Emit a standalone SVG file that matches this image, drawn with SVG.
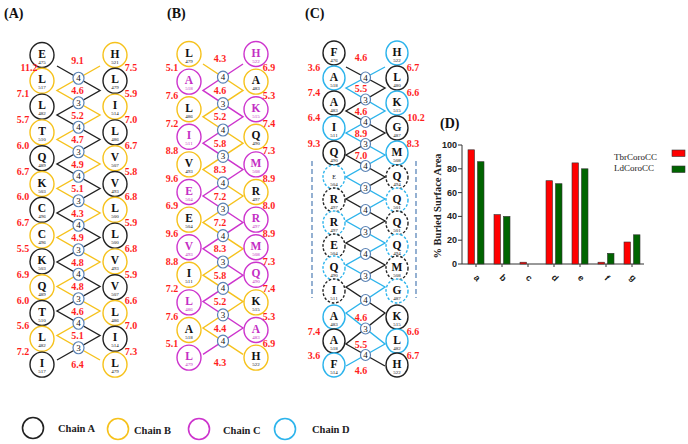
<svg xmlns="http://www.w3.org/2000/svg" width="688" height="444" viewBox="0 0 688 444">
<style>
.n ellipse{fill:#fff;stroke-width:1.4}
.nk ellipse{stroke:#222}
.ny ellipse{stroke:#F6C21C}
.nm ellipse{stroke:#CD34CD}
.nc ellipse{stroke:#2DB4EC}
.dd ellipse{stroke-dasharray:2.6 1.8}
.n text{font-family:"Liberation Serif",serif;text-anchor:middle;fill:#111}
.n .r{font-size:11.5px;font-weight:bold}
.n .u{font-size:5px}
.nm text{fill:#C42EC4}
.x ellipse{fill:#fff;stroke:#5A82B4;stroke-width:1.2}
.x text{font-family:"Liberation Serif",serif;font-size:9px;text-anchor:middle;fill:#111}
.v{font-family:"Liberation Serif",serif;font-weight:bold;font-size:10px;fill:#FF1E1E;text-anchor:middle}
.ln{fill:none;stroke-width:1.4}
.lk{stroke:#222}.ly{stroke:#F6C21C}.lm{stroke:#CD34CD}.lc{stroke:#2DB4EC}
.t{font-family:"Liberation Serif",serif;font-weight:bold;font-size:14px;fill:#111}
.lg{font-family:"Liberation Serif",serif;font-weight:bold;font-size:10.5px;fill:#222}
.ax{stroke:#333;stroke-width:1;fill:none}
.tk{font-family:"Liberation Sans",Arial,sans-serif;font-weight:bold;font-size:9px;fill:#222}
.rb{fill:#FF0000;stroke:#333;stroke-width:0.6}
.gb{fill:#006400;stroke:#333;stroke-width:0.6}
</style>
<rect width="688" height="444" fill="#fff"/>

<g id="titles">
<text class="t" x="4" y="18">(A)</text>
<text class="t" x="167" y="18">(B)</text>
<text class="t" x="305" y="18">(C)</text>
<text class="t" x="440" y="128">(D)</text>
</g>

<g id="connectors">
<polyline class="ln lk" points="57,66 100,90.5 57,115 100,139.5 57,164 100,188.5 57,213 100,237.5 57,262 100,286.5 57,311 100,335.5 57,360"/>
<polyline class="ln ly" points="100,66 57,90.5 100,115 57,139.5 100,164 57,188.5 100,213 57,237.5 100,262 57,286.5 100,311 57,335.5 100,360"/>
<polyline class="ln ly" points="203,64 243,90.4 203,116.8 243,143.2 203,169.6 243,196 203,222.4 243,248.8 203,275.2 243,301.6 203,328 243,354.4"/>
<polyline class="ln lm" points="243,64 203,90.4 243,116.8 203,143.2 243,169.6 203,196 243,222.4 203,248.8 243,275.2 203,301.6 243,328 203,354.4"/>
<polyline class="ln lk" points="346,67 385,88 346,111 385,133 346,155 385,177 346,199 385,221 346,243 385,265 346,287 385,313 346,344 385,366"/>
<polyline class="ln lc" points="385,67 346,88 385,111 346,133 385,155 346,177 385,199 346,221 385,243 346,265 385,287 346,313 385,344 346,366"/>
<line x1="312" y1="161" x2="312" y2="298" stroke="#4F7DB5" stroke-width="1.2" stroke-dasharray="5 3"/>
<line x1="416" y1="161" x2="416" y2="298" stroke="#4F7DB5" stroke-width="1.2" stroke-dasharray="5 3"/>
</g>

<!-- Panel A nodes -->
<g id="a-l0" class="n nk" transform="translate(42 55)"><ellipse rx="12" ry="12.5"/><text class="r" y="2.5">E</text><text class="u" y="8.5">475</text></g>
<g id="a-l1" class="n ny" transform="translate(42 80.8)"><ellipse rx="12" ry="12.5"/><text class="r" y="2.5">L</text><text class="u" y="8.5">517</text></g>
<g id="a-l2" class="n nk" transform="translate(42 106.6)"><ellipse rx="12" ry="12.5"/><text class="r" y="2.5">L</text><text class="u" y="8.5">482</text></g>
<g id="a-l3" class="n ny" transform="translate(42 132.4)"><ellipse rx="12" ry="12.5"/><text class="r" y="2.5">T</text><text class="u" y="8.5">510</text></g>
<g id="a-l4" class="n nk" transform="translate(42 158.2)"><ellipse rx="12" ry="12.5"/><text class="r" y="2.5">Q</text><text class="u" y="8.5">489</text></g>
<g id="a-l5" class="n ny" transform="translate(42 184)"><ellipse rx="12" ry="12.5"/><text class="r" y="2.5">K</text><text class="u" y="8.5">503</text></g>
<g id="a-l6" class="n nk" transform="translate(42 209.8)"><ellipse rx="12" ry="12.5"/><text class="r" y="2.5">C</text><text class="u" y="8.5">496</text></g>
<g id="a-l7" class="n ny" transform="translate(42 235.6)"><ellipse rx="12" ry="12.5"/><text class="r" y="2.5">C</text><text class="u" y="8.5">496</text></g>
<g id="a-l8" class="n nk" transform="translate(42 261.4)"><ellipse rx="12" ry="12.5"/><text class="r" y="2.5">K</text><text class="u" y="8.5">503</text></g>
<g id="a-l9" class="n ny" transform="translate(42 287.2)"><ellipse rx="12" ry="12.5"/><text class="r" y="2.5">Q</text><text class="u" y="8.5">489</text></g>
<g id="a-l10" class="n nk" transform="translate(42 313)"><ellipse rx="12" ry="12.5"/><text class="r" y="2.5">T</text><text class="u" y="8.5">510</text></g>
<g id="a-l11" class="n ny" transform="translate(42 338.8)"><ellipse rx="12" ry="12.5"/><text class="r" y="2.5">L</text><text class="u" y="8.5">482</text></g>
<g id="a-l12" class="n nk" transform="translate(42 364.6)"><ellipse rx="12" ry="12.5"/><text class="r" y="2.5">I</text><text class="u" y="8.5">517</text></g>
<g id="a-r0" class="n ny" transform="translate(115 55)"><ellipse rx="12" ry="12.5"/><text class="r" y="2.5">H</text><text class="u" y="8.5">521</text></g>
<g id="a-r1" class="n nk" transform="translate(115 80.8)"><ellipse rx="12" ry="12.5"/><text class="r" y="2.5">L</text><text class="u" y="8.5">479</text></g>
<g id="a-r2" class="n ny" transform="translate(115 106.6)"><ellipse rx="12" ry="12.5"/><text class="r" y="2.5">I</text><text class="u" y="8.5">514</text></g>
<g id="a-r3" class="n nk" transform="translate(115 132.4)"><ellipse rx="12" ry="12.5"/><text class="r" y="2.5">L</text><text class="u" y="8.5">486</text></g>
<g id="a-r4" class="n ny" transform="translate(115 158.2)"><ellipse rx="12" ry="12.5"/><text class="r" y="2.5">V</text><text class="u" y="8.5">507</text></g>
<g id="a-r5" class="n nk" transform="translate(115 184)"><ellipse rx="12" ry="12.5"/><text class="r" y="2.5">V</text><text class="u" y="8.5">493</text></g>
<g id="a-r6" class="n ny" transform="translate(115 209.8)"><ellipse rx="12" ry="12.5"/><text class="r" y="2.5">L</text><text class="u" y="8.5">500</text></g>
<g id="a-r7" class="n nk" transform="translate(115 235.6)"><ellipse rx="12" ry="12.5"/><text class="r" y="2.5">L</text><text class="u" y="8.5">500</text></g>
<g id="a-r8" class="n ny" transform="translate(115 261.4)"><ellipse rx="12" ry="12.5"/><text class="r" y="2.5">V</text><text class="u" y="8.5">493</text></g>
<g id="a-r9" class="n nk" transform="translate(115 287.2)"><ellipse rx="12" ry="12.5"/><text class="r" y="2.5">V</text><text class="u" y="8.5">507</text></g>
<g id="a-r10" class="n ny" transform="translate(115 313)"><ellipse rx="12" ry="12.5"/><text class="r" y="2.5">L</text><text class="u" y="8.5">486</text></g>
<g id="a-r11" class="n nk" transform="translate(115 338.8)"><ellipse rx="12" ry="12.5"/><text class="r" y="2.5">I</text><text class="u" y="8.5">514</text></g>
<g id="a-r12" class="n ny" transform="translate(115 364.6)"><ellipse rx="12" ry="12.5"/><text class="r" y="2.5">L</text><text class="u" y="8.5">479</text></g>

<g id="a-x0" class="x" transform="translate(78.5 78.25)"><ellipse rx="5.5" ry="6"/><text y="3">4</text></g>
<g id="a-x1" class="x" transform="translate(78.5 102.75)"><ellipse rx="5.5" ry="6"/><text y="3">3</text></g>
<g id="a-x2" class="x" transform="translate(78.5 127.25)"><ellipse rx="5.5" ry="6"/><text y="3">4</text></g>
<g id="a-x3" class="x" transform="translate(78.5 151.75)"><ellipse rx="5.5" ry="6"/><text y="3">3</text></g>
<g id="a-x4" class="x" transform="translate(78.5 176.25)"><ellipse rx="5.5" ry="6"/><text y="3">4</text></g>
<g id="a-x5" class="x" transform="translate(78.5 200.75)"><ellipse rx="5.5" ry="6"/><text y="3">3</text></g>
<g id="a-x6" class="x" transform="translate(78.5 225.25)"><ellipse rx="5.5" ry="6"/><text y="3">4</text></g>
<g id="a-x7" class="x" transform="translate(78.5 249.75)"><ellipse rx="5.5" ry="6"/><text y="3">3</text></g>
<g id="a-x8" class="x" transform="translate(78.5 274.25)"><ellipse rx="5.5" ry="6"/><text y="3">4</text></g>
<g id="a-x9" class="x" transform="translate(78.5 298.75)"><ellipse rx="5.5" ry="6"/><text y="3">3</text></g>
<g id="a-x10" class="x" transform="translate(78.5 323.25)"><ellipse rx="5.5" ry="6"/><text y="3">4</text></g>
<g id="a-x11" class="x" transform="translate(78.5 347.75)"><ellipse rx="5.5" ry="6"/><text y="3">3</text></g>

<g id="a-labels">
<text class="v" x="77.5" y="63.5">9.1</text><text class="v" x="77.5" y="94">4.6</text><text class="v" x="77.5" y="118.5">5.2</text><text class="v" x="77.5" y="143">4.7</text><text class="v" x="77.5" y="167.5">4.9</text><text class="v" x="77.5" y="192">5.1</text><text class="v" x="77.5" y="216.5">4.3</text><text class="v" x="77.5" y="241">4.9</text><text class="v" x="77.5" y="265.5">4.8</text><text class="v" x="77.5" y="290">4.8</text><text class="v" x="77.5" y="314.5">4.6</text><text class="v" x="77.5" y="339">5.1</text><text class="v" x="77.5" y="367.5">6.4</text>
<text class="v" x="29" y="71.4">11.2</text><text class="v" x="23" y="97.2">7.1</text><text class="v" x="23" y="123">5.7</text><text class="v" x="23" y="148.8">6.0</text><text class="v" x="23" y="174.6">6.7</text><text class="v" x="23" y="200.4">6.0</text><text class="v" x="23" y="226.2">6.7</text><text class="v" x="23" y="252">5.5</text><text class="v" x="23" y="277.8">6.9</text><text class="v" x="23" y="303.6">6.0</text><text class="v" x="23" y="329.4">5.6</text><text class="v" x="23" y="355.2">7.2</text>
<text class="v" x="131" y="71.4">7.5</text><text class="v" x="131" y="97.2">5.9</text><text class="v" x="131" y="123">7.0</text><text class="v" x="131" y="148.8">6.7</text><text class="v" x="131" y="174.6">5.8</text><text class="v" x="131" y="200.4">6.8</text><text class="v" x="131" y="226.2">5.9</text><text class="v" x="131" y="252">6.8</text><text class="v" x="131" y="277.8">5.9</text><text class="v" x="131" y="303.6">6.6</text><text class="v" x="131" y="329.4">7.0</text><text class="v" x="131" y="355.2">7.3</text>
</g>

<!-- Panel B nodes -->
<g id="b-l0" class="n ny" transform="translate(189 54)"><ellipse rx="12" ry="12.5"/><text class="r" y="2.5">L</text><text class="u" y="8.5">479</text></g>
<g id="b-l1" class="n nm" transform="translate(189 81.6)"><ellipse rx="12" ry="12.5"/><text class="r" y="2.5">A</text><text class="u" y="8.5">518</text></g>
<g id="b-l2" class="n ny" transform="translate(189 109.2)"><ellipse rx="12" ry="12.5"/><text class="r" y="2.5">L</text><text class="u" y="8.5">486</text></g>
<g id="b-l3" class="n nm" transform="translate(189 136.8)"><ellipse rx="12" ry="12.5"/><text class="r" y="2.5">I</text><text class="u" y="8.5">511</text></g>
<g id="b-l4" class="n ny" transform="translate(189 164.4)"><ellipse rx="12" ry="12.5"/><text class="r" y="2.5">V</text><text class="u" y="8.5">493</text></g>
<g id="b-l5" class="n nm" transform="translate(189 192)"><ellipse rx="12" ry="12.5"/><text class="r" y="2.5">E</text><text class="u" y="8.5">504</text></g>
<g id="b-l6" class="n ny" transform="translate(189 219.6)"><ellipse rx="12" ry="12.5"/><text class="r" y="2.5">E</text><text class="u" y="8.5">504</text></g>
<g id="b-l7" class="n nm" transform="translate(189 247.2)"><ellipse rx="12" ry="12.5"/><text class="r" y="2.5">V</text><text class="u" y="8.5">493</text></g>
<g id="b-l8" class="n ny" transform="translate(189 274.8)"><ellipse rx="12" ry="12.5"/><text class="r" y="2.5">I</text><text class="u" y="8.5">511</text></g>
<g id="b-l9" class="n nm" transform="translate(189 302.4)"><ellipse rx="12" ry="12.5"/><text class="r" y="2.5">L</text><text class="u" y="8.5">486</text></g>
<g id="b-l10" class="n ny" transform="translate(189 330)"><ellipse rx="12" ry="12.5"/><text class="r" y="2.5">A</text><text class="u" y="8.5">518</text></g>
<g id="b-l11" class="n nm" transform="translate(189 357.6)"><ellipse rx="12" ry="12.5"/><text class="r" y="2.5">L</text><text class="u" y="8.5">479</text></g>
<g id="b-r0" class="n nm" transform="translate(256 54)"><ellipse rx="12" ry="12.5"/><text class="r" y="2.5">H</text><text class="u" y="8.5">522</text></g>
<g id="b-r1" class="n ny" transform="translate(256 81.6)"><ellipse rx="12" ry="12.5"/><text class="r" y="2.5">A</text><text class="u" y="8.5">483</text></g>
<g id="b-r2" class="n nm" transform="translate(256 109.2)"><ellipse rx="12" ry="12.5"/><text class="r" y="2.5">K</text><text class="u" y="8.5">515</text></g>
<g id="b-r3" class="n ny" transform="translate(256 136.8)"><ellipse rx="12" ry="12.5"/><text class="r" y="2.5">Q</text><text class="u" y="8.5">490</text></g>
<g id="b-r4" class="n nm" transform="translate(256 164.4)"><ellipse rx="12" ry="12.5"/><text class="r" y="2.5">M</text><text class="u" y="8.5">508</text></g>
<g id="b-r5" class="n ny" transform="translate(256 192)"><ellipse rx="12" ry="12.5"/><text class="r" y="2.5">R</text><text class="u" y="8.5">497</text></g>
<g id="b-r6" class="n nm" transform="translate(256 219.6)"><ellipse rx="12" ry="12.5"/><text class="r" y="2.5">R</text><text class="u" y="8.5">497</text></g>
<g id="b-r7" class="n nm" transform="translate(256 247.2)"><ellipse rx="12" ry="12.5"/><text class="r" y="2.5">M</text><text class="u" y="8.5">508</text></g>
<g id="b-r8" class="n nm" transform="translate(256 274.8)"><ellipse rx="12" ry="12.5"/><text class="r" y="2.5">Q</text><text class="u" y="8.5">490</text></g>
<g id="b-r9" class="n ny" transform="translate(256 302.4)"><ellipse rx="12" ry="12.5"/><text class="r" y="2.5">K</text><text class="u" y="8.5">515</text></g>
<g id="b-r10" class="n nm" transform="translate(256 330)"><ellipse rx="12" ry="12.5"/><text class="r" y="2.5">A</text><text class="u" y="8.5">483</text></g>
<g id="b-r11" class="n ny" transform="translate(256 357.6)"><ellipse rx="12" ry="12.5"/><text class="r" y="2.5">H</text><text class="u" y="8.5">522</text></g>

<g id="b-x0" class="x" transform="translate(223 77.2)"><ellipse rx="5.5" ry="6"/><text y="3">4</text></g>
<g id="b-x1" class="x" transform="translate(223 103.6)"><ellipse rx="5.5" ry="6"/><text y="3">3</text></g>
<g id="b-x2" class="x" transform="translate(223 130)"><ellipse rx="5.5" ry="6"/><text y="3">4</text></g>
<g id="b-x3" class="x" transform="translate(223 156.4)"><ellipse rx="5.5" ry="6"/><text y="3">3</text></g>
<g id="b-x4" class="x" transform="translate(223 182.8)"><ellipse rx="5.5" ry="6"/><text y="3">4</text></g>
<g id="b-x5" class="x" transform="translate(223 209.2)"><ellipse rx="5.5" ry="6"/><text y="3">3</text></g>
<g id="b-x6" class="x" transform="translate(223 235.6)"><ellipse rx="5.5" ry="6"/><text y="3">4</text></g>
<g id="b-x7" class="x" transform="translate(223 262)"><ellipse rx="5.5" ry="6"/><text y="3">3</text></g>
<g id="b-x8" class="x" transform="translate(223 288.4)"><ellipse rx="5.5" ry="6"/><text y="3">4</text></g>
<g id="b-x9" class="x" transform="translate(223 314.8)"><ellipse rx="5.5" ry="6"/><text y="3">3</text></g>
<g id="b-x10" class="x" transform="translate(223 341.2)"><ellipse rx="5.5" ry="6"/><text y="3">4</text></g>

<g id="b-labels">
<text class="v" x="220" y="61.5">4.3</text><text class="v" x="220" y="93.9">4.6</text><text class="v" x="220" y="120.3">5.2</text><text class="v" x="220" y="146.7">5.8</text><text class="v" x="220" y="173.1">8.3</text><text class="v" x="220" y="199.5">7.2</text><text class="v" x="220" y="225.9">7.2</text><text class="v" x="220" y="252.3">8.3</text><text class="v" x="220" y="278.7">5.8</text><text class="v" x="220" y="305.1">5.2</text><text class="v" x="220" y="331.5">4.4</text><text class="v" x="220" y="365.5">4.3</text>
<text class="v" x="172" y="71.3">5.1</text><text class="v" x="172" y="98.9">7.6</text><text class="v" x="172" y="126.5">7.2</text><text class="v" x="172" y="154.1">8.8</text><text class="v" x="172" y="181.7">9.6</text><text class="v" x="172" y="209.3">6.9</text><text class="v" x="172" y="236.9">9.6</text><text class="v" x="172" y="264.5">8.8</text><text class="v" x="172" y="292.1">7.2</text><text class="v" x="172" y="319.7">7.6</text><text class="v" x="172" y="347.3">5.1</text>
<text class="v" x="269" y="71.3">6.9</text><text class="v" x="269" y="98.9">5.3</text><text class="v" x="269" y="126.5">7.4</text><text class="v" x="269" y="154.1">7.3</text><text class="v" x="269" y="181.7">8.9</text><text class="v" x="269" y="209.3">8.0</text><text class="v" x="269" y="236.9">8.9</text><text class="v" x="269" y="264.5">7.3</text><text class="v" x="269" y="292.1">7.4</text><text class="v" x="269" y="319.7">5.3</text><text class="v" x="269" y="347.3">6.9</text>
</g>

<!-- Panel C nodes -->
<g id="c-l0" class="n nk" transform="translate(334 53)"><ellipse rx="11" ry="12"/><text class="r" y="2.5">F</text><text class="u" y="8.5">476</text></g>
<g id="c-l1" class="n nc" transform="translate(334 78)"><ellipse rx="11" ry="12"/><text class="r" y="2.5">A</text><text class="u" y="8.5">518</text></g>
<g id="c-l2" class="n nk" transform="translate(334 103)"><ellipse rx="11" ry="12"/><text class="r" y="2.5">A</text><text class="u" y="8.5">483</text></g>
<g id="c-l3" class="n nc" transform="translate(334 128)"><ellipse rx="11" ry="12"/><text class="r" y="2.5">I</text><text class="u" y="8.5">511</text></g>
<g id="c-l4" class="n nk" transform="translate(334 153)"><ellipse rx="11" ry="12"/><text class="r" y="2.5">Q</text><text class="u" y="8.5">490</text></g>
<g id="c-l5" class="n nc dd" transform="translate(334 177)"><ellipse rx="11" ry="12"/><text class="u" y="1.5" style="font-size:6px">E</text><text class="u" y="8.5">504</text></g>
<g id="c-l6" class="n nk dd" transform="translate(334 200)"><ellipse rx="11" ry="12"/><text class="r" y="2.5">R</text><text class="u" y="8.5">497</text></g>
<g id="c-l7" class="n nc dd" transform="translate(334 223)"><ellipse rx="11" ry="12"/><text class="r" y="2.5">R</text><text class="u" y="8.5">497</text></g>
<g id="c-l8" class="n nk dd" transform="translate(334 246)"><ellipse rx="11" ry="12"/><text class="r" y="2.5">E</text><text class="u" y="8.5">504</text></g>
<g id="c-l9" class="n nc dd" transform="translate(334 268)"><ellipse rx="11" ry="12"/><text class="r" y="2.5">Q</text><text class="u" y="8.5">490</text></g>
<g id="c-l10" class="n nk dd" transform="translate(334 291)"><ellipse rx="11" ry="12"/><text class="r" y="2.5">I</text><text class="u" y="8.5">511</text></g>
<g id="c-l11" class="n nc" transform="translate(334 317)"><ellipse rx="11" ry="12"/><text class="r" y="2.5">A</text><text class="u" y="8.5">483</text></g>
<g id="c-l12" class="n nk" transform="translate(334 341)"><ellipse rx="11" ry="12"/><text class="r" y="2.5">A</text><text class="u" y="8.5">518</text></g>
<g id="c-l13" class="n nc" transform="translate(334 365)"><ellipse rx="11" ry="12"/><text class="r" y="2.5">F</text><text class="u" y="8.5">514</text></g>
<g id="c-r0" class="n nc" transform="translate(397 53)"><ellipse rx="11" ry="12"/><text class="r" y="2.5">H</text><text class="u" y="8.5">522</text></g>
<g id="c-r1" class="n nk" transform="translate(397 78)"><ellipse rx="11" ry="12"/><text class="r" y="2.5">L</text><text class="u" y="8.5">480</text></g>
<g id="c-r2" class="n nc" transform="translate(397 103)"><ellipse rx="11" ry="12"/><text class="r" y="2.5">K</text><text class="u" y="8.5">515</text></g>
<g id="c-r3" class="n nk" transform="translate(397 128)"><ellipse rx="11" ry="12"/><text class="r" y="2.5">G</text><text class="u" y="8.5">487</text></g>
<g id="c-r4" class="n nc" transform="translate(397 153)"><ellipse rx="11" ry="12"/><text class="r" y="2.5">M</text><text class="u" y="8.5">508</text></g>
<g id="c-r5" class="n nk dd" transform="translate(397 177)"><ellipse rx="11" ry="12"/><text class="r" y="2.5">Q</text><text class="u" y="8.5">494</text></g>
<g id="c-r6" class="n nc dd" transform="translate(397 200)"><ellipse rx="11" ry="12"/><text class="r" y="2.5">Q</text><text class="u" y="8.5">501</text></g>
<g id="c-r7" class="n nk dd" transform="translate(397 223)"><ellipse rx="11" ry="12"/><text class="r" y="2.5">Q</text><text class="u" y="8.5">501</text></g>
<g id="c-r8" class="n nc dd" transform="translate(397 246)"><ellipse rx="11" ry="12"/><text class="r" y="2.5">Q</text><text class="u" y="8.5">494</text></g>
<g id="c-r9" class="n nk dd" transform="translate(397 268)"><ellipse rx="11" ry="12"/><text class="r" y="2.5">M</text><text class="u" y="8.5">508</text></g>
<g id="c-r10" class="n nc dd" transform="translate(397 291)"><ellipse rx="11" ry="12"/><text class="r" y="2.5">G</text><text class="u" y="8.5">487</text></g>
<g id="c-r11" class="n nk" transform="translate(397 317)"><ellipse rx="11" ry="12"/><text class="r" y="2.5">K</text><text class="u" y="8.5">515</text></g>
<g id="c-r12" class="n nc" transform="translate(397 341)"><ellipse rx="11" ry="12"/><text class="r" y="2.5">L</text><text class="u" y="8.5">482</text></g>
<g id="c-r13" class="n nk" transform="translate(397 365)"><ellipse rx="11" ry="12"/><text class="r" y="2.5">H</text><text class="u" y="8.5">522</text></g>

<g id="c-x0" class="x" transform="translate(365.5 77.5)"><ellipse rx="5" ry="5.5"/><text y="3">4</text></g>
<g id="c-x1" class="x" transform="translate(365.5 99.5)"><ellipse rx="5" ry="5.5"/><text y="3">3</text></g>
<g id="c-x2" class="x" transform="translate(365.5 122)"><ellipse rx="5" ry="5.5"/><text y="3">4</text></g>
<g id="c-x3" class="x" transform="translate(365.5 144)"><ellipse rx="5" ry="5.5"/><text y="3">3</text></g>
<g id="c-x4" class="x" transform="translate(365.5 166)"><ellipse rx="5" ry="5.5"/><text y="3">4</text></g>
<g id="c-x5" class="x" transform="translate(365.5 188)"><ellipse rx="5" ry="5.5"/><text y="3">3</text></g>
<g id="c-x6" class="x" transform="translate(365.5 210)"><ellipse rx="5" ry="5.5"/><text y="3">4</text></g>
<g id="c-x7" class="x" transform="translate(365.5 232)"><ellipse rx="5" ry="5.5"/><text y="3">3</text></g>
<g id="c-x8" class="x" transform="translate(365.5 254)"><ellipse rx="5" ry="5.5"/><text y="3">4</text></g>
<g id="c-x9" class="x" transform="translate(365.5 276)"><ellipse rx="5" ry="5.5"/><text y="3">3</text></g>
<g id="c-x10" class="x" transform="translate(365.5 300)"><ellipse rx="5" ry="5.5"/><text y="3">4</text></g>
<g id="c-x11" class="x" transform="translate(365.5 328.5)"><ellipse rx="5" ry="5.5"/><text y="3">3</text></g>
<g id="c-x12" class="x" transform="translate(365.5 355)"><ellipse rx="5" ry="5.5"/><text y="3">4</text></g>

<g id="c-labels">
<text class="v" x="361" y="60.5">4.6</text><text class="v" x="361" y="91.5">5.5</text><text class="v" x="361" y="114.5">4.6</text><text class="v" x="361" y="136.5">8.9</text><text class="v" x="361" y="158.5">7.0</text><text class="v" x="361" y="320.5">4.6</text><text class="v" x="361" y="347.5">5.5</text><text class="v" x="361" y="373.5">4.6</text>
<text class="v" x="314" y="70.5">3.6</text><text class="v" x="314" y="95.5">7.4</text><text class="v" x="314" y="120.5">6.4</text><text class="v" x="314" y="146.5">9.3</text><text class="v" x="314" y="334.5">7.4</text><text class="v" x="314" y="358.5">3.6</text>
<text class="v" x="413" y="70.5">6.7</text><text class="v" x="413" y="95.5">6.6</text><text class="v" x="416" y="120.5">10.2</text><text class="v" x="413" y="146.5">8.3</text><text class="v" x="413" y="334.5">6.6</text><text class="v" x="413" y="358.5">6.7</text>
</g>

<!-- Panel D chart -->
<g id="chart">
<text font-family="Liberation Serif,serif" font-weight="bold" font-size="10.5" fill="#222" text-anchor="middle" transform="translate(440.5 206) rotate(-90)">% Buried Surface Area</text>
<g class="tk" text-anchor="end">
<text x="457" y="148">100</text><text x="457" y="171.8">80</text><text x="457" y="195.6">60</text><text x="457" y="219.4">40</text><text x="457" y="243.2">20</text><text x="457" y="267">0</text>
</g>
<path class="ax" d="M462 145V264H644M458 145H462M458 168.8H462M458 192.6H462M458 216.4H462M458 240.2H462M458 264H462M476 264V267M502 264V267M528 264V267M554 264V267M580 264V267M606 264V267M632 264V267"/>
<rect class="rb" x="468" y="149.8" width="6.5" height="114.2"/><rect class="gb" x="477.5" y="161.7" width="6.5" height="102.3"/>
<rect class="rb" x="494" y="214.6" width="6.5" height="49.4"/><rect class="gb" x="503.5" y="216.4" width="6.5" height="47.6"/>
<rect class="rb" x="520" y="262.2" width="6.5" height="1.8"/>
<rect class="rb" x="546" y="180.7" width="6.5" height="83.3"/><rect class="gb" x="555.5" y="183.7" width="6.5" height="80.3"/>
<rect class="rb" x="572" y="162.9" width="6.5" height="101.1"/><rect class="gb" x="581.5" y="168.8" width="6.5" height="95.2"/>
<rect class="rb" x="598" y="262.2" width="6.5" height="1.8"/><rect class="gb" x="607.5" y="253.3" width="6.5" height="10.7"/>
<rect class="rb" x="624" y="242" width="6.5" height="22"/><rect class="gb" x="633.5" y="234.8" width="6.5" height="29.2"/>
<g class="tk" text-anchor="middle">
<text transform="translate(475 280) rotate(45)">a</text><text transform="translate(501 280) rotate(45)">b</text><text transform="translate(527 280) rotate(45)">c</text><text transform="translate(553 280) rotate(45)">d</text><text transform="translate(579 280) rotate(45)">e</text><text transform="translate(605 280) rotate(45)">f</text><text transform="translate(631 280) rotate(45)">g</text>
</g>
<text x="614" y="160" font-family="Liberation Serif,serif" font-size="9" fill="#222">TbrCoroCC</text>
<text x="614" y="170.5" font-family="Liberation Serif,serif" font-size="9" fill="#222">LdCoroCC</text>
<rect class="rb" x="672" y="150" width="13" height="6.5"/>
<rect class="gb" x="672" y="166" width="13" height="6.5"/>
</g>

<!-- Legend -->
<g id="legend">
<circle cx="33" cy="428" r="10.5" fill="none" stroke="#222" stroke-width="1.6"/>
<text class="lg" x="58" y="432">Chain A</text>
<circle cx="118" cy="429" r="10.5" fill="none" stroke="#F6C21C" stroke-width="1.6"/>
<text class="lg" x="134" y="434">Chain B</text>
<circle cx="199" cy="429" r="10.5" fill="none" stroke="#CD34CD" stroke-width="1.6"/>
<text class="lg" x="223" y="434">Chain C</text>
<circle cx="285" cy="429" r="10.5" fill="none" stroke="#2DB4EC" stroke-width="1.6"/>
<text class="lg" x="312" y="433">Chain D</text>
</g>
</svg>
